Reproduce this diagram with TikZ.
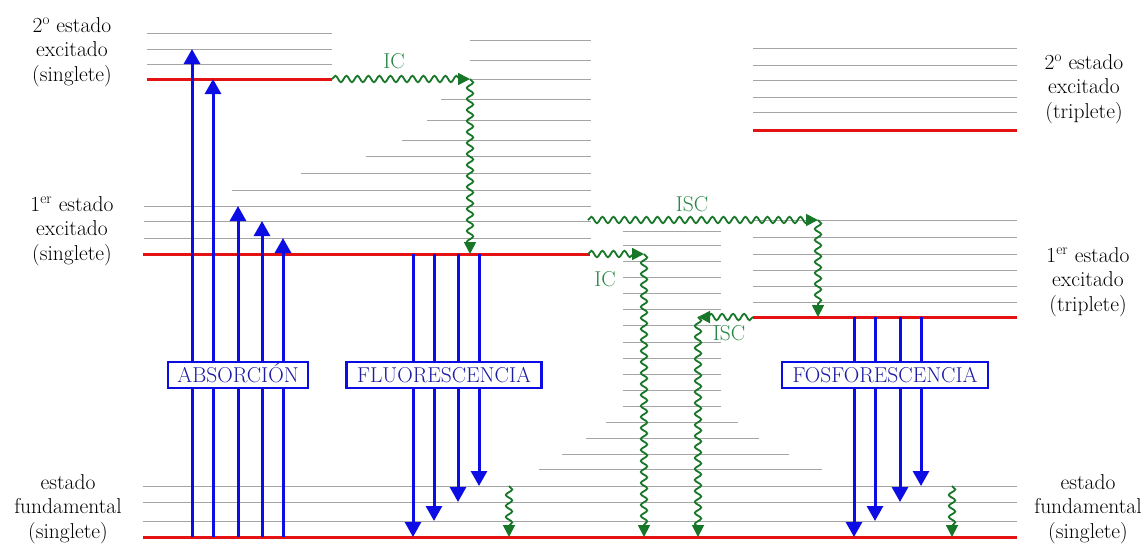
\documentclass[tikz,border=0pt]{standalone}
\usetikzlibrary{arrows.meta, decorations.pathmorphing}

\definecolor{lvlred}{RGB}{228,18,18}
\definecolor{lvlgray}{RGB}{165,165,165}
\definecolor{arrblue}{RGB}{12,12,228}
\definecolor{boxblue}{RGB}{28,28,165}
\definecolor{wavegreen}{RGB}{24,118,40}
\definecolor{lblgreen}{RGB}{40,135,70}

\begin{document}
\begin{tikzpicture}[x=1pt, y=-1pt,
  vib/.style={draw=lvlgray, line width=1pt},
  lvl/.style={draw=lvlred, line width=3pt},
  rad/.style={draw=arrblue, line width=3pt, -{Triangle[width=16pt,length=15pt]}},
  nonrad/.style={draw=wavegreen, line width=1.8pt, -{Triangle[width=12pt,length=12pt]},
    decorate, decoration={snake, amplitude=3.2pt, segment length=11pt, post length=8pt}},
  lbl/.style={align=center, font=\fontsize{21.5}{24.5}\selectfont},
  proc/.style={draw=arrblue, line width=2.5pt, fill=white, text=boxblue,
    font=\fontsize{21.5}{24.5}\selectfont, inner xsep=4pt, inner ysep=5.5pt,
    text height=15pt, text depth=0pt},
  trans/.style={text=lblgreen, font=\fontsize{21.5}{24.5}\selectfont}]
\useasboundingbox (0,0) rectangle (1148,544);

% vibrational levels
\foreach \y in {33,49,64} \draw[vib] (147,\y) -- (332,\y);
\foreach \y/\xa in {40/470,60/470,79/470,99/441,120/427,140/402,156/366,173/301,190/232,206/144,221/144,238/144}
  \draw[vib] (\xa,\y) -- (591,\y);
\foreach \y in {231,245,261,277,293,309,325,342,358,374,390,406} \draw[vib] (623,\y) -- (721,\y);
\foreach \y/\xa/\xb in {422/606/738,438/586/759,454/562/789,469/539/822,486/143/1017,502/143/1017,521/143/1017}
  \draw[vib] (\xa,\y) -- (\xb,\y);
\foreach \y in {48,65,80,97,112} \draw[vib] (753,\y) -- (1017,\y);
\foreach \y in {220,237,254,270,286,302} \draw[vib] (753,\y) -- (1017,\y);

% electronic levels
\draw[lvl] (147,79) -- (332,79);
\draw[lvl] (143,254) -- (590,254);
\draw[lvl] (753,130) -- (1017,130);
\draw[lvl] (753,317) -- (1017,317);
\draw[lvl] (143,537) -- (1017,537);

% absorption / emission
\foreach \x/\y in {192/49,213/79,238/206,262/221,283/238} \draw[rad] (\x,537) -- (\x,\y);
\foreach \x/\y in {413/537,434/521,458/502,479/486} \draw[rad] (\x,254) -- (\x,\y);
\foreach \x/\y in {854/537,875/521,900/502,921/486} \draw[rad] (\x,317) -- (\x,\y);

% non radiative
\coordinate (ic1) at (470,79);
\coordinate (isc1) at (818,220);
\coordinate (ic2) at (644,254);
\coordinate (isc2) at (698,317);
\draw[nonrad] (332,79) -- (ic1);
\draw[nonrad] (ic1) -- (470,254);
\draw[nonrad] (588,220) -- (isc1);
\draw[nonrad] (isc1) -- (818,317);
\draw[nonrad] (588,254) -- (ic2);
\draw[nonrad] (ic2) -- (644,537);
\draw[nonrad] (753,317) -- (isc2);
\draw[nonrad] (isc2) -- (698,537);
\draw[nonrad] (509,486) -- (509,537);
\draw[nonrad] (952,486) -- (952,537);

\node[trans] (tic1) at (394,61) {IC};
\node[trans] (tisc1) at (692,204) {ISC};
\node[trans] (tic2) at (605,279) {IC};
\node[trans] (tisc2) at (729,333) {ISC};

% boxes
\node[proc, minimum width=140pt] (abs) at (238,375) {ABSORCIÓN};
\node[proc, minimum width=195pt] (flu) at (444,375) {FLUORESCENCIA};
\node[proc, minimum width=206pt] (fos) at (885,375) {FOSFORESCENCIA};

% state labels
\node[lbl] (s2) at (72,52) {2\textsuperscript{o} estado\\excitado\\(singlete)};
\node[lbl] (s1) at (72,231) {1\textsuperscript{er} estado\\excitado\\(singlete)};
\node[lbl] (s0) at (68,509) {estado\\fundamental\\(singlete)};
\node[lbl] (t2) at (1084,89) {2\textsuperscript{o} estado\\excitado\\(triplete)};
\node[lbl] (t1) at (1088,282) {1\textsuperscript{er} estado\\excitado\\(triplete)};
\node[lbl] (s0r) at (1088,509) {estado\\fundamental\\(singlete)};
\end{tikzpicture}
\end{document}
